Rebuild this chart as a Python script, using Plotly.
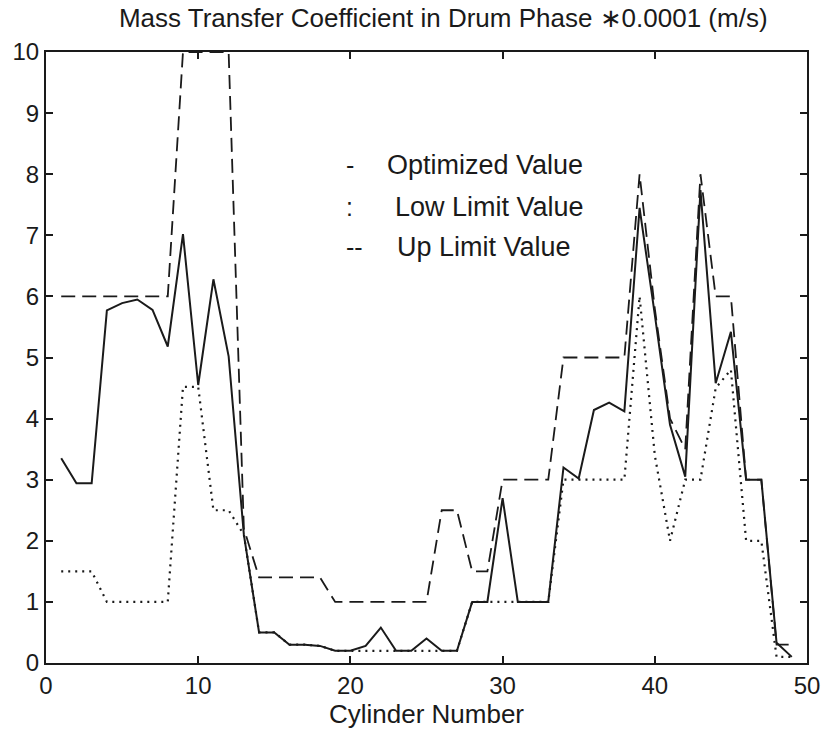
import plotly.graph_objects as go

cylinder = list(range(1, 50))

optimized = [3.35, 2.94, 2.94, 5.77, 5.89, 5.95, 5.78, 5.18, 7.02, 4.55,
             6.28, 5.02, 2.10, 0.50, 0.50, 0.30, 0.30, 0.28, 0.20, 0.20,
             0.28, 0.58, 0.20, 0.20, 0.40, 0.20, 0.20, 1.00, 1.00, 2.70,
             1.00, 1.00, 1.00, 3.20, 3.02, 4.14, 4.26, 4.12, 7.45, 5.70,
             3.90, 3.05, 7.74, 4.58, 5.42, 3.00, 3.00, 0.33, 0.10]

low_limit = [1.5, 1.5, 1.5, 1.0, 1.0, 1.0, 1.0, 1.0, 4.52, 4.52,
             2.5, 2.5, 2.1, 0.5, 0.5, 0.3, 0.3, 0.28, 0.2, 0.2,
             0.2, 0.2, 0.2, 0.2, 0.2, 0.2, 0.2, 1.0, 1.0, 1.0,
             1.0, 1.0, 1.0, 3.0, 3.0, 3.0, 3.0, 3.0, 6.0, 3.4,
             2.0, 3.0, 3.0, 4.5, 4.8, 2.0, 2.0, 0.1, 0.1]

up_limit = [6.0, 6.0, 6.0, 6.0, 6.0, 6.0, 6.0, 6.0, 10.0, 10.0,
            10.0, 10.0, 2.2, 1.4, 1.4, 1.4, 1.4, 1.4, 1.0, 1.0,
            1.0, 1.0, 1.0, 1.0, 1.0, 2.5, 2.5, 1.5, 1.5, 3.0,
            3.0, 3.0, 3.0, 5.0, 5.0, 5.0, 5.0, 5.0, 8.0, 5.8,
            4.0, 3.5, 8.0, 6.0, 6.0, 3.0, 3.0, 0.3, 0.3]

legend_marks = ["-", ":", "--"]
legend_labels = ["Optimized Value", "Low Limit Value", "Up Limit Value"]

FONT = "Liberation Sans, Arial, sans-serif"
INK = "#1a1a1a"

fig = go.Figure()
fig.add_trace(go.Scatter(x=cylinder, y=low_limit, mode="lines",
                         line=dict(color=INK, width=2.2, dash="2px,5px"),
                         showlegend=False))
fig.add_trace(go.Scatter(x=cylinder, y=up_limit, mode="lines",
                         line=dict(color=INK, width=1.8, dash="14px,7px"),
                         showlegend=False))
fig.add_trace(go.Scatter(x=cylinder, y=optimized, mode="lines",
                         line=dict(color=INK, width=2),
                         showlegend=False))

# text legend (as in the original figure)
mark_x = [19.95, 19.95, 20.3]
label_x = [22.3, 22.8, 22.9]
row_y = [8.15, 7.47, 6.81]
for m, lab, mx, lx, ry in zip(legend_marks, legend_labels, mark_x, label_x, row_y):
    fig.add_annotation(x=mx, y=ry, xref="x", yref="y", text=m, showarrow=False,
                       xanchor="center", yanchor="middle",
                       font=dict(family=FONT, size=25, color=INK))
    fig.add_annotation(x=lx, y=ry, xref="x", yref="y", text=lab, showarrow=False,
                       xanchor="left", yanchor="middle",
                       font=dict(family=FONT, size=27, color=INK))

axis_common = dict(showline=True, linecolor=INK, linewidth=2, mirror="allticks",
                   ticks="inside", ticklen=7, tickwidth=1.5, tickcolor=INK,
                   showgrid=False, zeroline=False,
                   tickfont=dict(family=FONT, size=24, color=INK))

fig.update_layout(
    width=832, height=739,
    margin=dict(l=42, r=17, t=52, b=76),
    paper_bgcolor="white", plot_bgcolor="white",
    title=dict(text="Mass Transfer Coefficient in Drum Phase \u22170.0001 (m/s)",
               x=0.522, xref="paper", xanchor="center",
               y=1 - 18 / 739, yref="container", yanchor="middle",
               font=dict(family=FONT, size=26, color=INK)),
    xaxis=dict(range=[0, 50], dtick=10, tick0=0,
               title=dict(text="Cylinder Number", standoff=3,
                          font=dict(family=FONT, size=26, color=INK)),
               **axis_common),
    yaxis=dict(range=[0, 10], dtick=1, tick0=0, **axis_common),
    showlegend=False,
)

fig.write_html("out.html")
